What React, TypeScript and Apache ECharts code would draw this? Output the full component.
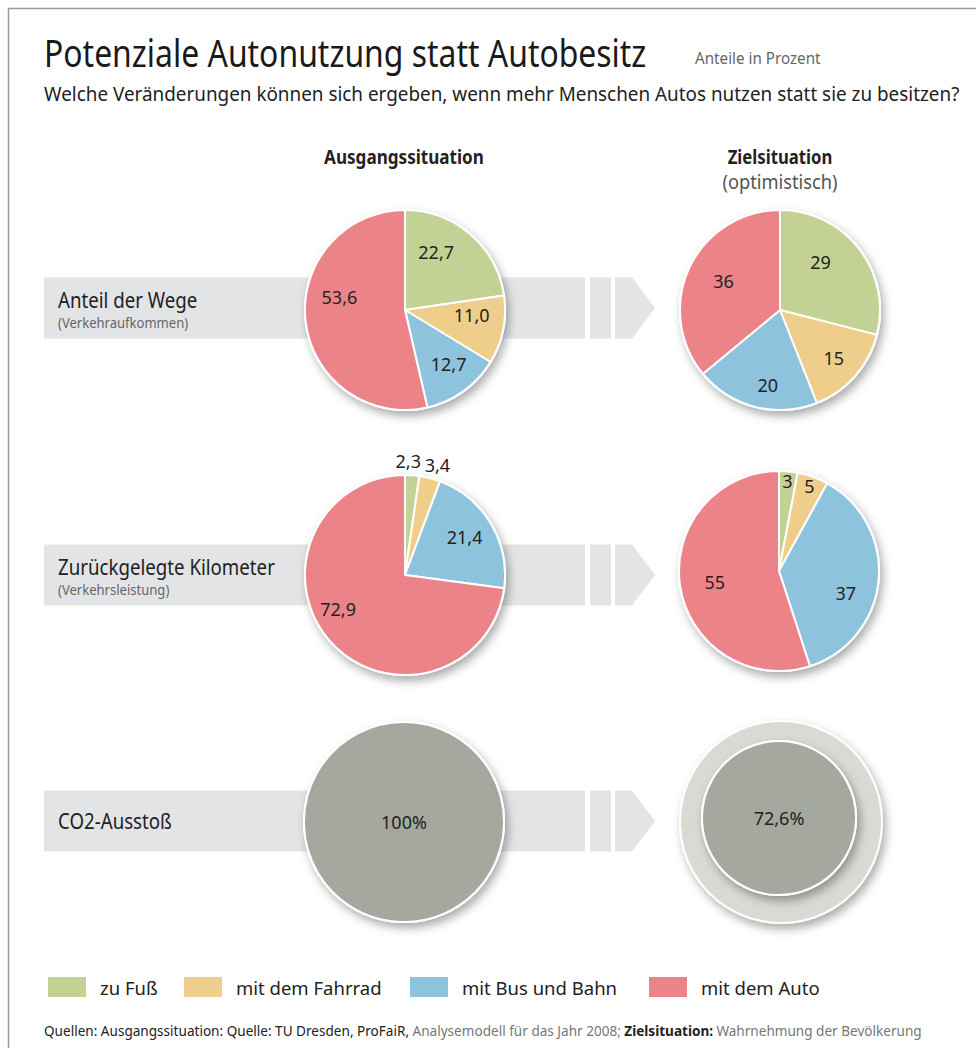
import React, { useEffect, useRef } from 'react';
import * as echarts from 'echarts';

const categories = ['zu Fuß', 'mit dem Fahrrad', 'mit Bus und Bahn', 'mit dem Auto'];
const colors = ['#c3d294', '#efce8c', '#8ec3dd', '#ec8389'];
const wegeAusgang = [22.7, 11.0, 12.7, 53.6];
const wegeZiel = [29, 15, 20, 36];
const kmAusgang = [2.3, 3.4, 21.4, 72.9];
const kmZiel = [3, 5, 37, 55];
const co2Ausgang = [100];
const co2Ziel = [72.6];
const rowTitles = ['Anteil der Wege', 'Zurückgelegte Kilometer', 'CO2-Ausstoß'];
const rowSubtitles = ['(Verkehraufkommen)', '(Verkehrsleistung)', ''];
const columnTitles = ['Ausgangssituation', 'Zielsituation'];
const legendLefts = [46, 182, 408, 647];

const F = "'Noto Sans', sans-serif";
const fmt1 = (v: number) => v.toFixed(1).replace('.', ',');
const fmt0 = (v: number) => String(v).replace('.', ',');

const SHADOW = { shadowBlur: 10, shadowOffsetX: 3, shadowOffsetY: 5, shadowColor: 'rgba(0,0,0,0.33)' };

function backdrop(center: number[], r: number, color: string, border = 0) {
  return {
    type: 'pie', silent: true, center, radius: r, z: 1, startAngle: 90,
    label: { show: false }, labelLine: { show: false }, emphasis: { disabled: true },
    itemStyle: { color, borderColor: '#fff', borderWidth: border, ...SHADOW },
    data: [{ value: 1, name: '_bg' }],
  };
}

function slices(center: number[], values: number[]) {
  return {
    type: 'pie', silent: true, center, radius: 100, z: 2, startAngle: 90, clockwise: true,
    label: { show: false }, labelLine: { show: false }, emphasis: { disabled: true },
    itemStyle: { borderColor: '#fff', borderWidth: 2 },
    data: values.map((v, i) => ({ value: v, name: categories[i], itemStyle: { color: colors[i] } })),
  };
}

// Label layer: a transparent pie twice the label radius, labels placed inside; nudges [dx, dy] fine-tune placement.
function labels(center: number[], values: number[], labelR: number, fmt: (v: number) => string, show?: number[], nudges?: (number[] | undefined)[]) {
  const nd = (i: number) => (nudges && nudges[i]) || [0, 0];
  return {
    type: 'pie', silent: true, center, radius: [0, labelR * 2], z: 3, startAngle: 90, clockwise: true,
    labelLine: { show: false }, emphasis: { disabled: true }, labelLayout: { hideOverlap: false },
    itemStyle: { color: 'rgba(0,0,0,0)' },
    label: {
      show: true, position: 'inside', fontSize: 18, color: '#222', fontFamily: F,
      formatter: (p: any) => {
        const dy = nd(p.dataIndex)[1];
        const t = fmt(p.value);
        if (dy < 0) return t + '\n ';
        if (dy > 0) return ' \n' + t;
        return t;
      },
    },
    data: values.map((v, i) => {
      const [dx, dy] = nd(i);
      const lbl: any = {
        show: show ? show.includes(i) : true,
        padding: [0, Math.max(0, -2 * dx), 0, Math.max(0, 2 * dx)],
      };
      if (dy !== 0) lbl.lineHeight = 2 * Math.abs(dy);
      return { value: v, name: categories[i], label: lbl };
    }),
  };
}

function single(center: number[], r: number, value: number, text: string) {
  return {
    type: 'pie', silent: true, center, radius: r, z: 2, startAngle: 90,
    labelLine: { show: false }, emphasis: { disabled: true },
    itemStyle: { color: '#a4a89e', borderColor: '#fff', borderWidth: 2 },
    label: { show: true, position: 'center', fontSize: 18, color: '#222', fontFamily: F, formatter: () => text },
    data: [{ value, name: 'CO2' }],
  };
}

function txt(x: number, y: number, text: string, size: number, fill: string, align: string, scaleX: number, weight = 'normal') {
  return {
    type: 'text', z: 5, x, y, scaleX, originX: 0, originY: 0,
    style: { text, fontSize: size, fontFamily: F, fontWeight: weight, fill, align, verticalAlign: 'middle' },
  };
}

const bandYs = [308, 575, 821];
const BAND_H = 61;
const BAND_COLOR = '#e3e4e6';

function bandGraphics() {
  const out: any[] = [];
  bandYs.forEach((cy, i) => {
    const top = cy - BAND_H / 2;
    out.push({ type: 'rect', z: 0, shape: { x: 44, y: top, width: 541, height: BAND_H }, style: { fill: BAND_COLOR } });
    out.push({ type: 'rect', z: 0, shape: { x: 590, y: top, width: 21, height: BAND_H }, style: { fill: BAND_COLOR } });
    out.push({
      type: 'polygon', z: 0,
      shape: { points: [[615, top], [632, top], [655, cy], [632, top + BAND_H], [615, top + BAND_H]] },
      style: { fill: BAND_COLOR },
    });
    const hasSub = rowSubtitles[i] !== '';
    out.push(txt(58, hasSub ? cy - 8 : cy, rowTitles[i], 21, '#222', 'left', 0.89));
    if (hasSub) out.push(txt(58, cy + 14, rowSubtitles[i], 14.5, '#666', 'left', 0.9));
  });
  return out;
}

export default function App() {
  const ref = useRef<HTMLDivElement>(null);
  useEffect(() => {
    if (!ref.current) return;
    const chart = echarts.init(ref.current, undefined, { renderer: 'svg' });
    const cA1 = [405, 310], cZ1 = [780, 310];
    const cA2 = [405, 575], cZ2 = [779, 571];
    const cA3 = [404, 822], cZ3 = [781, 822], cZ3i = [779, 818];
    const option: any = {
      animation: false,
      backgroundColor: '#ffffff',
      legend: categories.map((c, i) => ({
        left: legendLefts[i], top: 975, padding: 0, itemWidth: 40, itemHeight: 22, icon: 'rect', selectedMode: false,
        textStyle: { fontSize: 18.5, color: '#222', fontFamily: F, padding: [0, 0, 0, 8] },
        data: [{ name: c, itemStyle: { color: colors[i] } }],
      })),
      graphic: {
        elements: [
          { type: 'line', z: 0, shape: { x1: 8, y1: 8.5, x2: 976, y2: 8.5 }, style: { stroke: '#9a9a9a', lineWidth: 1.5 } },
          { type: 'line', z: 0, shape: { x1: 8.5, y1: 8, x2: 8.5, y2: 1048 }, style: { stroke: '#9a9a9a', lineWidth: 1.5 } },
          txt(44, 52, 'Potenziale Autonutzung statt Autobesitz', 38, '#1a1a1a', 'left', 0.84),
          txt(695, 58, 'Anteile in Prozent', 16, '#666', 'left', 0.95),
          txt(44, 93, 'Welche Veränderungen können sich ergeben, wenn mehr Menschen Autos nutzen statt sie zu besitzen?', 20, '#222', 'left', 0.944),
          txt(404, 157, columnTitles[0], 19, '#222', 'center', 0.9, 'bold'),
          txt(780, 157, columnTitles[1], 19, '#222', 'center', 0.88, 'bold'),
          txt(780, 181, '(optimistisch)', 19, '#555', 'center', 0.96),
          ...bandGraphics(),
          {
            type: 'text', z: 5, x: 44, y: 1030, scaleX: 0.97,
            style: {
              text: '{a|Quellen: Ausgangssituation: Quelle: TU Dresden, ProFaiR,} {b|Analysemodell für das Jahr 2008;} {c|Zielsituation:} {b|Wahrnehmung der Bevölkerung}',
              align: 'left', verticalAlign: 'middle',
              rich: {
                a: { fontSize: 14, fontFamily: F, fill: '#222' },
                b: { fontSize: 14, fontFamily: F, fill: '#777' },
                c: { fontSize: 14, fontFamily: F, fill: '#222', fontWeight: 'bold' },
              },
            },
          },
        ],
      },
      series: [
        backdrop(cA1, 101, '#fff'),
        slices(cA1, wegeAusgang),
        labels(cA1, wegeAusgang, 63, fmt1, undefined, [[-12, -8], [2, -8], [5, 0], [0, -20]]),
        backdrop(cZ1, 101, '#fff'),
        slices(cZ1, wegeZiel),
        labels(cZ1, wegeZiel, 66, fmt0, undefined, [[-14, -6], [2, 2], [5, 8], [6, 0]]),
        backdrop(cA2, 101, '#fff'),
        slices(cA2, kmAusgang),
        labels(cA2, kmAusgang, 70, fmt1, [2, 3], [undefined, undefined, [-3, 0], [-12, -14]]),
        labels(cA2, kmAusgang, 111, fmt1, [0, 1], [[-5, 0], [4, 0], undefined, undefined]),
        backdrop(cZ2, 101, '#fff'),
        slices(cZ2, kmZiel),
        labels(cZ2, kmZiel, 66, fmt0, [2, 3], [undefined, undefined, [-2, 16], [4, 0]]),
        labels(cZ2, kmZiel, 87, fmt0, [0, 1]),
        backdrop(cA3, 101, '#fff'),
        single(cA3, 100, co2Ausgang[0], co2Ausgang[0] + '%'),
        backdrop(cZ3, 101, '#d8dad4', 2),
        backdrop(cZ3i, 78, '#fff'),
        single(cZ3i, 77, co2Ziel[0], fmt1(co2Ziel[0]) + '%'),
      ],
    };
    chart.setOption(option);
    return () => chart.dispose();
  }, []);
  return <div ref={ref} style={{ position: 'absolute', left: 0, top: 0, width: 976, height: 1048, background: '#fff' }} />;
}
